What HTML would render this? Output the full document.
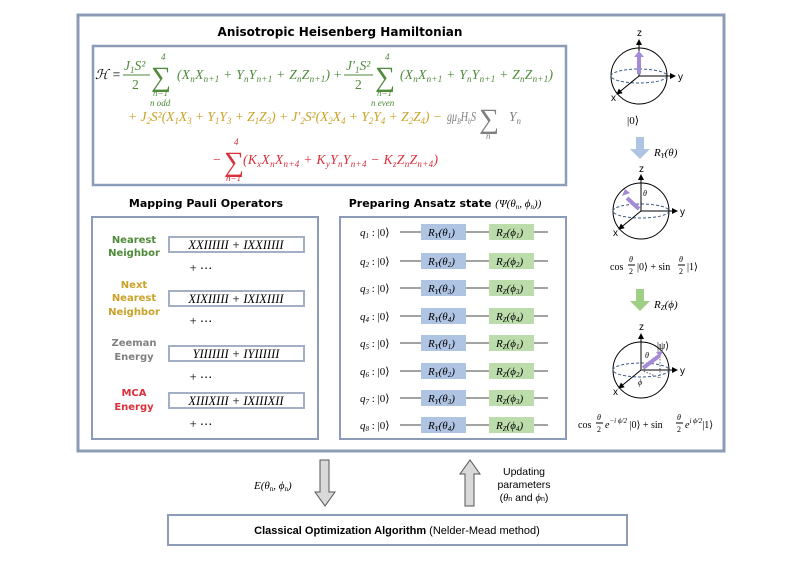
<!DOCTYPE html>
<html><head><meta charset="utf-8"><style>
body{margin:0;background:#fff}
svg{display:block}
.t{font-family:"Liberation Serif",serif;font-style:italic}
.s{font-family:"Liberation Sans",sans-serif}
.b{font-family:"DejaVu Sans","Liberation Sans",sans-serif;font-weight:bold}
</style></head><body>
<svg width="787" height="570" viewBox="0 0 787 570" xmlns="http://www.w3.org/2000/svg">
<defs>
<marker id="ah" markerWidth="6" markerHeight="6" refX="5" refY="3" orient="auto"><path d="M0,0L6,3L0,6z" fill="#000"/></marker>
</defs>
<rect x="78" y="15" width="646" height="436" fill="#fff" stroke="#8c9cb6" stroke-width="3"/>
<text x="340" y="36" class="b" font-size="12" text-anchor="middle">Anisotropic Heisenberg Hamiltonian</text>
<rect x="93" y="46" width="473" height="139" fill="#fff" stroke="#8c9cb6" stroke-width="2.5"/>
<g class="t" font-size="13.5">
<text x="95" y="79" fill="#000">ℋ =</text>
<g fill="#4e8a3a">
<text x="124" y="70">J<tspan font-size="9" dy="3">1</tspan><tspan dy="-3">S²</tspan></text>
<line x1="123" y1="75" x2="150" y2="75" stroke="#4e8a3a"/>
<text x="132" y="89" font-style="normal">2</text>
<text x="151" y="86" font-size="28" font-style="normal">∑</text>
<text x="161" y="60" font-size="9">4</text>
<text x="153" y="96" font-size="9">n=1</text>
<text x="150" y="106" font-size="9">n odd</text>
<text x="177" y="79" textLength="153" lengthAdjust="spacing">(X<tspan font-size="9" dy="3">n</tspan><tspan dy="-3">X</tspan><tspan font-size="9" dy="3">n+1</tspan><tspan dy="-3"> + Y</tspan><tspan font-size="9" dy="3">n</tspan><tspan dy="-3">Y</tspan><tspan font-size="9" dy="3">n+1</tspan><tspan dy="-3"> + Z</tspan><tspan font-size="9" dy="3">n</tspan><tspan dy="-3">Z</tspan><tspan font-size="9" dy="3">n+1</tspan><tspan dy="-3">)</tspan></text>
<text x="333" y="79">+</text>
<text x="346" y="70">J′<tspan font-size="9" dy="3">1</tspan><tspan dy="-3">S²</tspan></text>
<line x1="344" y1="75" x2="373" y2="75" stroke="#4e8a3a"/>
<text x="355" y="89" font-style="normal">2</text>
<text x="375" y="86" font-size="28" font-style="normal">∑</text>
<text x="385" y="60" font-size="9">4</text>
<text x="377" y="96" font-size="9">n=1</text>
<text x="371" y="106" font-size="9">n even</text>
<text x="400" y="79" textLength="153" lengthAdjust="spacing">(X<tspan font-size="9" dy="3">n</tspan><tspan dy="-3">X</tspan><tspan font-size="9" dy="3">n+1</tspan><tspan dy="-3"> + Y</tspan><tspan font-size="9" dy="3">n</tspan><tspan dy="-3">Y</tspan><tspan font-size="9" dy="3">n+1</tspan><tspan dy="-3"> + Z</tspan><tspan font-size="9" dy="3">n</tspan><tspan dy="-3">Z</tspan><tspan font-size="9" dy="3">n+1</tspan><tspan dy="-3">)</tspan></text>
</g>
<text x="128" y="121" fill="#c9a227" textLength="314" lengthAdjust="spacing">+ J<tspan font-size="9" dy="3">2</tspan><tspan dy="-3">S²(X</tspan><tspan font-size="9" dy="3">1</tspan><tspan dy="-3">X</tspan><tspan font-size="9" dy="3">3</tspan><tspan dy="-3"> + Y</tspan><tspan font-size="9" dy="3">1</tspan><tspan dy="-3">Y</tspan><tspan font-size="9" dy="3">3</tspan><tspan dy="-3"> + Z</tspan><tspan font-size="9" dy="3">1</tspan><tspan dy="-3">Z</tspan><tspan font-size="9" dy="3">3</tspan><tspan dy="-3">) + J′</tspan><tspan font-size="9" dy="3">2</tspan><tspan dy="-3">S²(X</tspan><tspan font-size="9" dy="3">2</tspan><tspan dy="-3">X</tspan><tspan font-size="9" dy="3">4</tspan><tspan dy="-3"> + Y</tspan><tspan font-size="9" dy="3">2</tspan><tspan dy="-3">Y</tspan><tspan font-size="9" dy="3">4</tspan><tspan dy="-3"> + Z</tspan><tspan font-size="9" dy="3">2</tspan><tspan dy="-3">Z</tspan><tspan font-size="9" dy="3">4</tspan><tspan dy="-3">) −</tspan></text>
<g fill="#808080">
<text x="447" y="121" textLength="29" lengthAdjust="spacingAndGlyphs">gμ<tspan font-size="8" dy="3">B</tspan><tspan dy="-3">H</tspan><tspan font-size="8" dy="3">b</tspan><tspan dy="-3">S</tspan></text>
<text x="479" y="128" font-size="28" font-style="normal">∑</text>
<text x="509" y="121">Y<tspan font-size="9" dy="3">n</tspan></text>
<text x="486" y="139" font-size="9">n</text>
</g>
<g fill="#d9303a">
<text x="213" y="164" font-style="normal">−</text>
<text x="224" y="171" font-size="28" font-style="normal">∑</text>
<text x="234" y="145" font-size="9">4</text>
<text x="226" y="181" font-size="9">n=1</text>
<text x="243" y="164" textLength="195" lengthAdjust="spacing">(K<tspan font-size="9" dy="3">x</tspan><tspan dy="-3">X</tspan><tspan font-size="9" dy="3">n</tspan><tspan dy="-3">X</tspan><tspan font-size="9" dy="3">n+4</tspan><tspan dy="-3"> + K</tspan><tspan font-size="9" dy="3">y</tspan><tspan dy="-3">Y</tspan><tspan font-size="9" dy="3">n</tspan><tspan dy="-3">Y</tspan><tspan font-size="9" dy="3">n+4</tspan><tspan dy="-3"> − K</tspan><tspan font-size="9" dy="3">z</tspan><tspan dy="-3">Z</tspan><tspan font-size="9" dy="3">n</tspan><tspan dy="-3">Z</tspan><tspan font-size="9" dy="3">n+4</tspan><tspan dy="-3">)</tspan></text>
</g>
</g>

<text x="206" y="207" class="b" font-size="11" text-anchor="middle">Mapping Pauli Operators</text>
<rect x="92" y="217" width="226" height="222" fill="#fff" stroke="#8c9cb6" stroke-width="2"/>
<g class="b" font-size="10" text-anchor="middle">
<text x="134" y="243" fill="#4e8a3a">Nearest</text><text x="134" y="256" fill="#4e8a3a">Neighbor</text>
<text x="134" y="288" fill="#c9a227">Next</text><text x="134" y="301" fill="#c9a227">Nearest</text><text x="134" y="315" fill="#c9a227">Neighbor</text>
<text x="134" y="346" fill="#808080">Zeeman</text><text x="134" y="360" fill="#808080">Energy</text>
<text x="134" y="396" fill="#d9303a">MCA</text><text x="134" y="410" fill="#d9303a">Energy</text>
</g>
<g class="t" font-size="12.5" text-anchor="middle">
<rect x="169" y="237" width="135" height="15" fill="#fff" stroke="#a3afc4" stroke-width="2"/>
<text x="236" y="249">XXIIIIII + IXXIIIII</text>
<rect x="169" y="291" width="135" height="15" fill="#fff" stroke="#a3afc4" stroke-width="2"/>
<text x="236" y="303">XIXIIIII + IXIXIIII</text>
<rect x="169" y="346" width="135" height="15" fill="#fff" stroke="#a3afc4" stroke-width="2"/>
<text x="236" y="358">YIIIIIII + IYIIIIII</text>
<rect x="169" y="393" width="135" height="15" fill="#fff" stroke="#a3afc4" stroke-width="2"/>
<text x="236" y="405">XIIIXIII + IXIIIXII</text>
<g font-style="normal"><text x="201" y="272">+ ⋯</text><text x="201" y="325">+ ⋯</text><text x="201" y="381">+ ⋯</text><text x="201" y="428">+ ⋯</text></g>
</g>

<text x="445" y="207" class="b" font-size="11" text-anchor="middle">Preparing Ansatz state <tspan class="t" font-weight="normal" font-family="Liberation Serif">(Ψ(θ<tspan font-size="7" dy="2">n</tspan><tspan dy="-2">, ϕ</tspan><tspan font-size="7" dy="2">n</tspan><tspan dy="-2">))</tspan></tspan></text>
<rect x="340" y="217" width="226" height="222" fill="#fff" stroke="#8c9cb6" stroke-width="2"/>
<g class="t" font-size="11" stroke-width="1">
<g transform="translate(0,232)"><line x1="400" y1="0" x2="548" y2="0" stroke="#444"/><text x="360" y="4">q<tspan font-size="7" dy="2">1</tspan><tspan dy="-2" font-style="normal"> : |0⟩</tspan></text><rect x="421" y="-8" width="45" height="16" fill="#afc3e3"/><text x="428" y="4">R<tspan font-size="7" dy="2">Y</tspan><tspan dy="-2">(θ</tspan><tspan font-size="7" dy="2">1</tspan><tspan dy="-2">)</tspan></text><rect x="489" y="-8" width="45" height="16" fill="#bcdcab"/><text x="496" y="4">R<tspan font-size="7" dy="2">Z</tspan><tspan dy="-2">(ϕ</tspan><tspan font-size="7" dy="2">1</tspan><tspan dy="-2">)</tspan></text></g>
<g transform="translate(0,261)"><line x1="400" y1="0" x2="548" y2="0" stroke="#444"/><text x="360" y="4">q<tspan font-size="7" dy="2">2</tspan><tspan dy="-2" font-style="normal"> : |0⟩</tspan></text><rect x="421" y="-8" width="45" height="16" fill="#afc3e3"/><text x="428" y="4">R<tspan font-size="7" dy="2">Y</tspan><tspan dy="-2">(θ</tspan><tspan font-size="7" dy="2">2</tspan><tspan dy="-2">)</tspan></text><rect x="489" y="-8" width="45" height="16" fill="#bcdcab"/><text x="496" y="4">R<tspan font-size="7" dy="2">Z</tspan><tspan dy="-2">(ϕ</tspan><tspan font-size="7" dy="2">2</tspan><tspan dy="-2">)</tspan></text></g>
<g transform="translate(0,288)"><line x1="400" y1="0" x2="548" y2="0" stroke="#444"/><text x="360" y="4">q<tspan font-size="7" dy="2">3</tspan><tspan dy="-2" font-style="normal"> : |0⟩</tspan></text><rect x="421" y="-8" width="45" height="16" fill="#afc3e3"/><text x="428" y="4">R<tspan font-size="7" dy="2">Y</tspan><tspan dy="-2">(θ</tspan><tspan font-size="7" dy="2">3</tspan><tspan dy="-2">)</tspan></text><rect x="489" y="-8" width="45" height="16" fill="#bcdcab"/><text x="496" y="4">R<tspan font-size="7" dy="2">Z</tspan><tspan dy="-2">(ϕ</tspan><tspan font-size="7" dy="2">3</tspan><tspan dy="-2">)</tspan></text></g>
<g transform="translate(0,316)"><line x1="400" y1="0" x2="548" y2="0" stroke="#444"/><text x="360" y="4">q<tspan font-size="7" dy="2">4</tspan><tspan dy="-2" font-style="normal"> : |0⟩</tspan></text><rect x="421" y="-8" width="45" height="16" fill="#afc3e3"/><text x="428" y="4">R<tspan font-size="7" dy="2">Y</tspan><tspan dy="-2">(θ</tspan><tspan font-size="7" dy="2">4</tspan><tspan dy="-2">)</tspan></text><rect x="489" y="-8" width="45" height="16" fill="#bcdcab"/><text x="496" y="4">R<tspan font-size="7" dy="2">Z</tspan><tspan dy="-2">(ϕ</tspan><tspan font-size="7" dy="2">4</tspan><tspan dy="-2">)</tspan></text></g>
<g transform="translate(0,343)"><line x1="400" y1="0" x2="548" y2="0" stroke="#444"/><text x="360" y="4">q<tspan font-size="7" dy="2">5</tspan><tspan dy="-2" font-style="normal"> : |0⟩</tspan></text><rect x="421" y="-8" width="45" height="16" fill="#afc3e3"/><text x="428" y="4">R<tspan font-size="7" dy="2">Y</tspan><tspan dy="-2">(θ</tspan><tspan font-size="7" dy="2">1</tspan><tspan dy="-2">)</tspan></text><rect x="489" y="-8" width="45" height="16" fill="#bcdcab"/><text x="496" y="4">R<tspan font-size="7" dy="2">Z</tspan><tspan dy="-2">(ϕ</tspan><tspan font-size="7" dy="2">1</tspan><tspan dy="-2">)</tspan></text></g>
<g transform="translate(0,371)"><line x1="400" y1="0" x2="548" y2="0" stroke="#444"/><text x="360" y="4">q<tspan font-size="7" dy="2">6</tspan><tspan dy="-2" font-style="normal"> : |0⟩</tspan></text><rect x="421" y="-8" width="45" height="16" fill="#afc3e3"/><text x="428" y="4">R<tspan font-size="7" dy="2">Y</tspan><tspan dy="-2">(θ</tspan><tspan font-size="7" dy="2">2</tspan><tspan dy="-2">)</tspan></text><rect x="489" y="-8" width="45" height="16" fill="#bcdcab"/><text x="496" y="4">R<tspan font-size="7" dy="2">Z</tspan><tspan dy="-2">(ϕ</tspan><tspan font-size="7" dy="2">2</tspan><tspan dy="-2">)</tspan></text></g>
<g transform="translate(0,398)"><line x1="400" y1="0" x2="548" y2="0" stroke="#444"/><text x="360" y="4">q<tspan font-size="7" dy="2">7</tspan><tspan dy="-2" font-style="normal"> : |0⟩</tspan></text><rect x="421" y="-8" width="45" height="16" fill="#afc3e3"/><text x="428" y="4">R<tspan font-size="7" dy="2">Y</tspan><tspan dy="-2">(θ</tspan><tspan font-size="7" dy="2">3</tspan><tspan dy="-2">)</tspan></text><rect x="489" y="-8" width="45" height="16" fill="#bcdcab"/><text x="496" y="4">R<tspan font-size="7" dy="2">Z</tspan><tspan dy="-2">(ϕ</tspan><tspan font-size="7" dy="2">3</tspan><tspan dy="-2">)</tspan></text></g>
<g transform="translate(0,425)"><line x1="400" y1="0" x2="548" y2="0" stroke="#444"/><text x="360" y="4">q<tspan font-size="7" dy="2">8</tspan><tspan dy="-2" font-style="normal"> : |0⟩</tspan></text><rect x="421" y="-8" width="45" height="16" fill="#afc3e3"/><text x="428" y="4">R<tspan font-size="7" dy="2">Y</tspan><tspan dy="-2">(θ</tspan><tspan font-size="7" dy="2">4</tspan><tspan dy="-2">)</tspan></text><rect x="489" y="-8" width="45" height="16" fill="#bcdcab"/><text x="496" y="4">R<tspan font-size="7" dy="2">Z</tspan><tspan dy="-2">(ϕ</tspan><tspan font-size="7" dy="2">4</tspan><tspan dy="-2">)</tspan></text></g>
</g>

<!-- Bloch spheres -->
<g fill="none" stroke="#000" stroke-width="1">
<circle cx="639" cy="76" r="28"/><ellipse cx="639" cy="76" rx="28" ry="7" stroke="#3a5a8a" stroke-dasharray="3,2"/>
<line x1="639" y1="76" x2="639" y2="40" marker-end="url(#ah)"/><line x1="639" y1="76" x2="675" y2="76" marker-end="url(#ah)"/><line x1="639" y1="76" x2="617" y2="94" marker-end="url(#ah)"/>
<line x1="639" y1="74" x2="639" y2="55" stroke="#a58ad6" stroke-width="4"/>
<circle cx="641" cy="211" r="28"/><ellipse cx="641" cy="211" rx="28" ry="7" stroke="#3a5a8a" stroke-dasharray="3,2"/>
<line x1="641" y1="211" x2="641" y2="175" marker-end="url(#ah)"/><line x1="641" y1="211" x2="677" y2="211" marker-end="url(#ah)"/><line x1="641" y1="211" x2="619" y2="229" marker-end="url(#ah)"/>
<line x1="639" y1="209" x2="627" y2="198" stroke="#a58ad6" stroke-width="4"/>
<circle cx="641" cy="370" r="28"/><ellipse cx="641" cy="370" rx="28" ry="7" stroke="#3a5a8a" stroke-dasharray="3,2"/>
<line x1="641" y1="370" x2="641" y2="334" marker-end="url(#ah)"/><line x1="641" y1="370" x2="677" y2="370" marker-end="url(#ah)"/><line x1="641" y1="370" x2="619" y2="388" marker-end="url(#ah)"/>
<line x1="643" y1="368" x2="659" y2="356" stroke="#a58ad6" stroke-width="4"/>
<line x1="660" y1="356" x2="660" y2="378" stroke="#666" stroke-dasharray="1.5,1.5"/><line x1="641" y1="370" x2="660" y2="378" stroke="#666" stroke-dasharray="1.5,1.5"/>
</g>
<path d="M634,57 l5,-6 l5,6z M622,196 l3,-7 l5,4z M656,352 l7,-1 l-3,6z" fill="#a58ad6"/>
<g class="t" font-size="10">
<text x="637" y="36" class="s" font-style="normal">z</text><text x="678" y="80" class="s" font-style="normal">y</text><text x="611" y="101" class="s" font-style="normal">x</text>
<text x="639" y="172" class="s" font-style="normal">z</text><text x="680" y="215" class="s" font-style="normal">y</text><text x="613" y="236" class="s" font-style="normal">x</text>
<text x="639" y="330" class="s" font-style="normal">z</text><text x="680" y="374" class="s" font-style="normal">y</text><text x="613" y="395" class="s" font-style="normal">x</text>
<text x="643" y="196" font-size="8">θ</text><text x="645" y="358" font-size="8">θ</text><text x="638" y="385" font-size="8">ϕ</text>
<text x="657" y="349" font-style="normal">|ψ⟩</text>
<text x="627" y="124" font-style="normal" font-size="11">|0⟩</text>
<text x="610" y="270" font-size="10"><tspan font-style="normal">cos</tspan></text><text x="629" y="262" font-size="8">θ</text><line x1="628" y1="265" x2="635" y2="265" stroke="#000"/><text x="629" y="274" font-size="8" font-style="normal">2</text><text x="637" y="270" font-style="normal">|0⟩ + sin</text><text x="679" y="262" font-size="8">θ</text><line x1="678" y1="265" x2="685" y2="265" stroke="#000"/><text x="679" y="274" font-size="8" font-style="normal">2</text><text x="687" y="270" font-style="normal">|1⟩</text>
<text x="578" y="428" font-style="normal">cos</text><text x="597" y="420" font-size="8">θ</text><line x1="596" y1="423" x2="603" y2="423" stroke="#000"/><text x="597" y="432" font-size="8" font-style="normal">2</text><text x="605" y="428">e<tspan font-size="7" dy="-5">−i ϕ/2</tspan><tspan dy="5" font-style="normal"> |0⟩ + sin</tspan></text><text x="677" y="420" font-size="8">θ</text><line x1="676" y1="423" x2="683" y2="423" stroke="#000"/><text x="677" y="432" font-size="8" font-style="normal">2</text><text x="685" y="428">e<tspan font-size="7" dy="-5">i ϕ/2</tspan><tspan dy="5" font-style="normal">|1⟩</tspan></text>
<text x="654" y="156" font-size="11">R<tspan font-size="7" dy="2">Y</tspan><tspan dy="-2">(θ)</tspan></text>
<text x="654" y="308" font-size="11">R<tspan font-size="7" dy="2">Z</tspan><tspan dy="-2">(ϕ)</tspan></text>
</g>
<path d="M636,137 h8 v12 h6 l-10,10 l-10,-10 h6z" fill="#afc3e3"/>
<path d="M636,289 h8 v12 h6 l-10,10 l-10,-10 h6z" fill="#9fcf85"/>

<!-- bottom -->
<path d="M320,460 h9 v32 h6 l-10,14 l-10,-14 h5z" fill="#d9d9d9" stroke="#555" stroke-width="1"/>
<path d="M465,506 h9 v-32 h6 l-10,-14 l-10,14 h5z" fill="#d9d9d9" stroke="#555" stroke-width="1"/>
<text x="254" y="489" class="t" font-size="11">E(θ<tspan font-size="7" dy="2" font-style="normal">n</tspan><tspan dy="-2">, ϕ</tspan><tspan font-size="7" dy="2" font-style="normal">n</tspan><tspan dy="-2">)</tspan></text>
<g class="s" font-size="10.5" text-anchor="middle"><text x="524" y="475">Updating</text><text x="524" y="488">parameters</text><text x="524" y="501">(<tspan class="t">θ</tspan><tspan font-size="7">n</tspan> and <tspan class="t">ϕ</tspan><tspan font-size="7">n</tspan>)</text></g>
<rect x="168" y="515" width="459" height="30" fill="#fff" stroke="#8c9cb6" stroke-width="2"/>
<text x="397" y="534" class="s" font-size="11" text-anchor="middle"><tspan font-weight="bold">Classical Optimization Algorithm</tspan> (Nelder-Mead method)</text>
</svg>
</body></html>
